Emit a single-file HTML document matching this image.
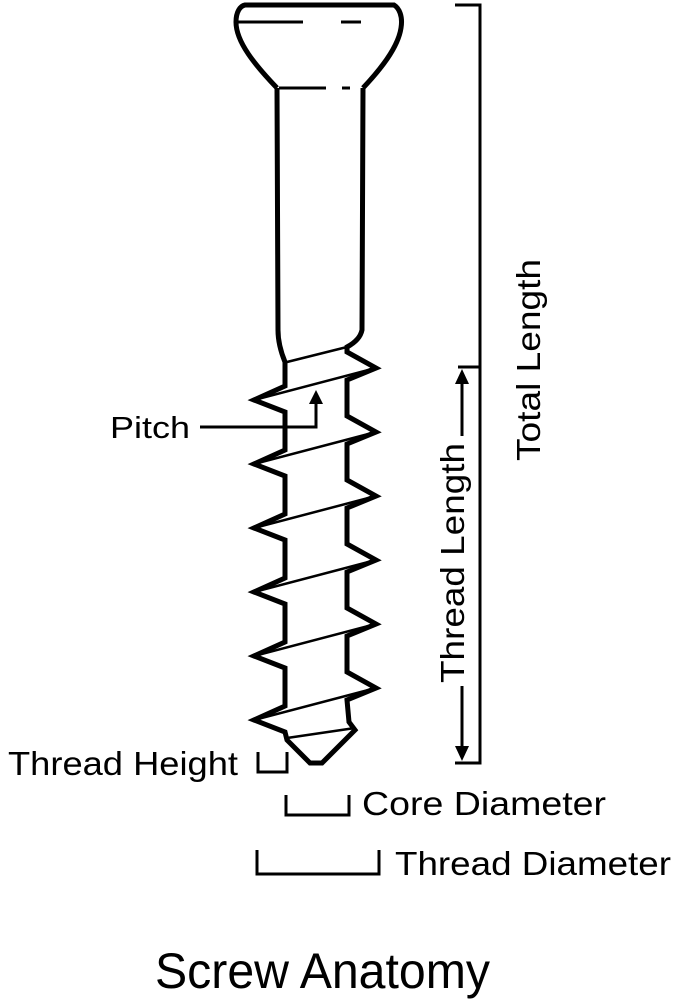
<!DOCTYPE html>
<html><head><meta charset="utf-8"><style>
html,body{margin:0;padding:0;background:#fff;}
svg{display:block;}
text{font-family:"Liberation Sans",Arial,sans-serif;fill:#000;}
</style></head><body>
<svg width="680" height="1000" viewBox="0 0 680 1000" xmlns="http://www.w3.org/2000/svg">
<g fill="none" stroke="#000" stroke-linejoin="miter" stroke-linecap="butt">
<!-- head -->
<path d="M277,88 C255,65 236,42 236,22 C236,12 240,6 245,5 L394,5 C399,8 403,16 401,28 C398,48 380,70 363,88" stroke-width="5"/>
<path d="M238,22 L303,22 M341,22 L361,22" stroke-width="3"/>
<path d="M279,88 L326,88 M342,88 L350,88" stroke-width="3"/>
<!-- left side -->
<path d="M277,88 L278,330 Q278,345 285,362 L285,386 L254,400 L285,412
L285,450 L254,464 L285,476 L285,514 L254,528 L285,540 L285,578 L254,592 L285,604
L285,642 L254,656 L285,668 L285,706 L254,720 L285,732 L287,740 L310,763 L322,763 L355,730 L349,722 L347,700 L376,688 L347,672
L347,636 L376,624 L347,608 L347,572 L376,560 L347,544 L347,508 L376,496 L347,480 L347,444 L376,432 L347,416 L347,380 L376,368 L347,352 L347,347 Q360,340 362,330 L363,88" stroke-width="5"/>
<!-- helix lines -->
<path d="M287,362 L347,347 M376,368 L254,400 M376,432 L254,464 M376,496 L254,528 M376,560 L254,592 M376,624 L254,656 M376,688 L254,720 M287,738 L355,728" stroke-width="2.5"/>
<!-- pitch -->
<path d="M200,427 L316,427 L316,400" stroke-width="3"/>
<!-- total length -->
<path d="M455,5 L480,5 L480,763 L455,763 M458,367 L480,367" stroke-width="3"/>
<!-- thread length arrows -->
<path d="M462,378 L462,436 M462,686 L462,752" stroke-width="3"/>
<!-- brackets -->
<path d="M258,752 L258,772 L287,772 L287,752" stroke-width="3"/>
<path d="M286,795 L286,815 L349,815 L349,795" stroke-width="3"/>
<path d="M257,850 L257,874 L379,874 L379,850" stroke-width="3"/>
</g>
<g fill="#000">
<polygon points="316,390 309,404 323,404"/>
<polygon points="462,369 455,384 469,384"/>
<polygon points="462,761 455,746 469,746"/>
</g>
<text x="110" y="438" font-size="31" textLength="80" lengthAdjust="spacingAndGlyphs">Pitch</text>
<text transform="translate(540,360) rotate(-90)" text-anchor="middle" font-size="33" textLength="202" lengthAdjust="spacingAndGlyphs">Total Length</text>
<text transform="translate(464,563) rotate(-90)" text-anchor="middle" font-size="33" textLength="240" lengthAdjust="spacingAndGlyphs">Thread Length</text>
<text x="8" y="775" font-size="33" textLength="230" lengthAdjust="spacingAndGlyphs">Thread Height</text>
<text x="362" y="815" font-size="33" textLength="244" lengthAdjust="spacingAndGlyphs">Core Diameter</text>
<text x="395" y="875" font-size="33" textLength="276" lengthAdjust="spacingAndGlyphs">Thread Diameter</text>
<text x="155" y="988" font-size="50" textLength="335" lengthAdjust="spacingAndGlyphs">Screw Anatomy</text>
</svg>
</body></html>
